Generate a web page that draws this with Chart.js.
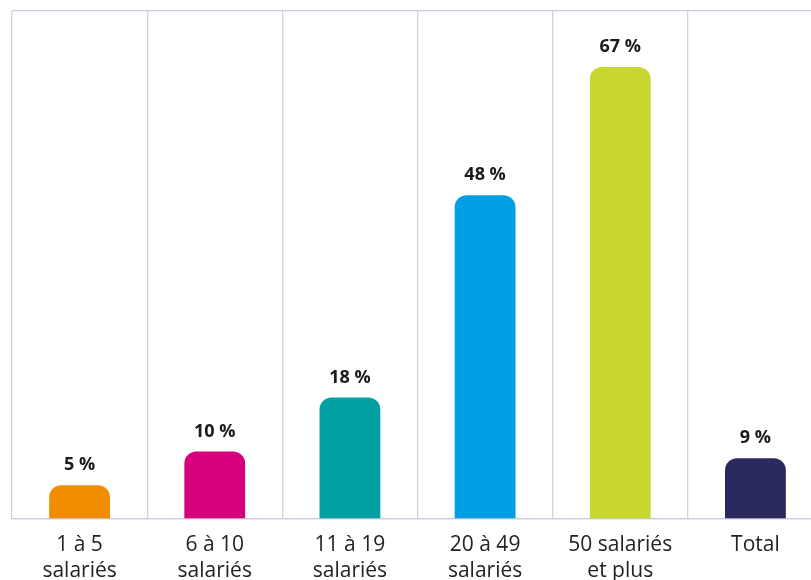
<!DOCTYPE html>
<html lang="fr">
<head>
    <meta charset="UTF-8" />
    <title>Part par taille d'entreprise</title>
    <script src="https://cdn.jsdelivr.net/npm/chart.js"></script>
    <style>
        html, body { margin: 0; padding: 0; background: #fff; overflow: hidden; }
        #wrap { width: 830px; height: 580px; }
    </style>
</head>
<body>
<div id="wrap"><canvas id="chart" width="830" height="580"></canvas></div>

<script>
    // données
    const categories = [
        ['1 à 5', 'salariés'],
        ['6 à 10', 'salariés'],
        ['11 à 19', 'salariés'],
        ['20 à 49', 'salariés'],
        ['50 salariés', 'et plus'],
        ['Total']
    ];
    const values = [5, 10, 18, 48, 67, 9];
    const barColors = ['#f28c00', '#d6007e', '#00a0a3', '#009fe3', '#c8d72f', '#2a2a5e'];
    const yMax = 75.3;

    // étiquettes de valeur au-dessus des barres
    const valueLabels = {
        id: 'valueLabels',
        afterDatasetsDraw(chart) {
            const ctx = chart.ctx;
            const meta = chart.getDatasetMeta(0);
            ctx.save();
            ctx.font = 'bold 18px "Open Sans", sans-serif';
            ctx.fillStyle = '#1a1a1a';
            ctx.textAlign = 'center';
            ctx.textBaseline = 'middle';
            meta.data.forEach((bar, i) => {
                ctx.fillText(values[i] + ' %', bar.x, bar.y - 20);
            });
            ctx.restore();
        }
    };

    new Chart(document.getElementById('chart'), {
        type: 'bar',
        data: {
            labels: categories,
            datasets: [{
                data: values,
                backgroundColor: barColors,
                borderRadius: 12,
                borderSkipped: 'start',
                barPercentage: 0.45,
                categoryPercentage: 1
            }]
        },
        options: {
            responsive: false,
            animation: false,
            layout: { padding: { left: 12, top: 11, right: 7, bottom: 0 } },
            plugins: { legend: { display: false }, tooltip: { enabled: false } },
            scales: {
                x: {
                    grid: { color: '#d3cfe4', lineWidth: 1.3, drawTicks: false, offset: true },
                    border: { color: '#cdc9e0', width: 1.3 },
                    ticks: {
                        color: '#222222',
                        font: { family: '"Open Sans", sans-serif', size: 21, lineHeight: 1.24 },
                        padding: 13,
                        maxRotation: 0
                    },
                    afterFit(scale) { scale.height = 61; }
                },
                y: {
                    min: 0,
                    max: yMax,
                    afterBuildTicks(scale) {
                        scale.ticks = [{ value: 0 }, { value: yMax }];
                    },
                    grid: { color: '#cdc9e0', lineWidth: 1.3, drawTicks: false },
                    border: { display: false },
                    ticks: { display: false },
                    afterFit(scale) { scale.width = 0; }
                }
            }
        },
        plugins: [valueLabels]
    });
</script>
</body>
</html>
